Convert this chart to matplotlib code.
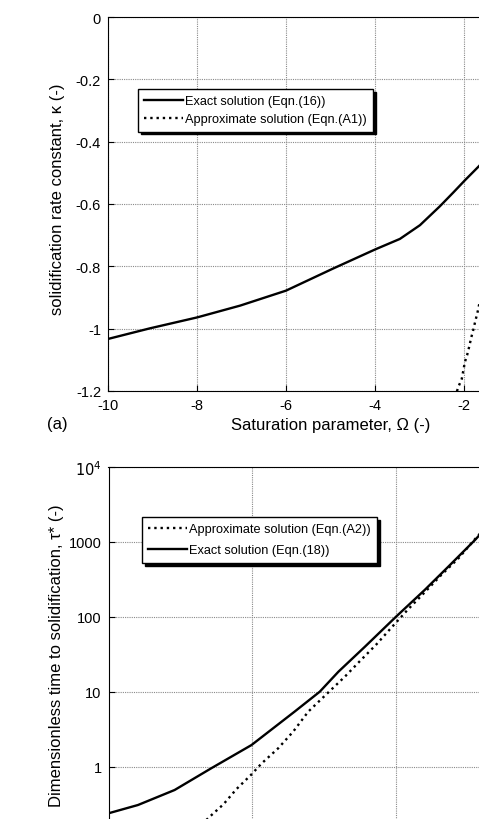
import matplotlib
matplotlib.use('Agg')
import matplotlib.pyplot as plt
from matplotlib.ticker import FuncFormatter

plt.rcParams['font.family'] = ['Liberation Sans', 'DejaVu Sans']
plt.rcParams['axes.unicode_minus'] = False

# (a) solidification rate constant vs saturation parameter
omega_exact = [-10, -9.06, -8, -7.03, -6, -4.94, -4, -3.44, -2.99, -2.54, -2.24, -1.98, -1.66, -1.3, -0.9]
kappa_exact = [-1.033, -0.999, -0.964, -0.926, -0.878, -0.807, -0.746, -0.712, -0.668, -0.607, -0.563,
               -0.524, -0.478, -0.42, -0.34]
omega_approx = [-2.2, -2.13, -2.05, -1.98, -1.93, -1.88, -1.84, -1.79, -1.75, -1.7, -1.66, -1.4, -1.0]
kappa_approx = [-1.22, -1.188, -1.161, -1.107, -1.085, -1.056, -1.03, -1.003, -0.978, -0.95, -0.923, -0.78, -0.56]

# (b) dimensionless time to solidification
omega_t_exact = [-10, -9.59, -9.08, -8.57, -8.01, -7.41, -7.06, -6.80, -6.43, -6.0, -5.6, -5.27, -4.90, -4.3]
tau_exact = [0.238, 0.307, 0.487, 0.95, 1.94, 5.42, 10, 18.5, 40, 100, 228, 468, 1060, 4500]
omega_t_approx = [-8.9, -8.59, -8.4, -8.22, -8.02, -7.87, -7.64, -7.43, -7.22, -6.94, -6.71, -6.50, -6.27,
                  -6.05, -5.83, -5.6, -5.37, -5.13, -4.87, -4.3]
tau_approx = [0.11, 0.215, 0.314, 0.5, 0.77, 1.1, 1.75, 2.93, 5.42, 9.8, 15.9, 25.7, 43, 74, 126, 212,
              361, 603, 1175, 4500]

W, H = 479, 820
fig = plt.figure(figsize=(W / 100, H / 100), dpi=100)

grid_kw = dict(color='#8a8a8a', linestyle=(0, (1, 1)), linewidth=0.8)
fmt = FuncFormatter(lambda v, p: '%g' % v)

# top panel (right part is cut off by the figure edge, like the scan)
ax1 = fig.add_axes([108 / W, 1 - 392 / H, 445 / W, 374 / H])
ax1.plot(omega_exact, kappa_exact, color='black', lw=1.7, label='Exact solution (Eqn.(16))')
ax1.plot(omega_approx, kappa_approx, color='black', lw=1.7, linestyle=':', label='Approximate solution (Eqn.(A1))')
ax1.set_xlim(-10, 0)
ax1.set_ylim(-1.2, 0)
ax1.set_xticks([-10, -8, -6, -4, -2])
ax1.set_yticks([0, -0.2, -0.4, -0.6, -0.8, -1, -1.2])
ax1.xaxis.set_major_formatter(fmt)
ax1.yaxis.set_major_formatter(fmt)
ax1.grid(True, **grid_kw)
ax1.tick_params(direction='in', labelsize=10.5, length=4, pad=5)
ax1.set_xlabel('Saturation parameter, \u03a9 (-)', fontsize=12)
ax1.set_ylabel('solidification rate constant, \u03ba (-)', fontsize=12)
ax1.xaxis.set_label_coords(0.5, -0.07)
ax1.yaxis.set_label_coords(-0.097, 0.515)
leg1 = ax1.legend(loc='upper left', bbox_to_anchor=(138 / W, 1 - 90 / H), bbox_transform=fig.transFigure,
                  fontsize=9.2, frameon=True, fancybox=False, edgecolor='black', framealpha=1,
                  shadow={'color': 'black', 'alpha': 1}, handlelength=3.0, handletextpad=0.2,
                  borderpad=0.5, labelspacing=0.45, borderaxespad=0)
leg1.get_frame().set_linewidth(1.0)
fig.text(57 / W, 1 - 425 / H, '(a)', ha='center', va='center', fontsize=12)

# bottom panel (lower part cut off)
ax2 = fig.add_axes([108.5 / W, 1 - 842.5 / H, 445.5 / W, 374.5 / H])
ax2.plot(omega_t_approx, tau_approx, color='black', lw=1.7, linestyle=':', label='Approximate solution (Eqn.(A2))')
ax2.plot(omega_t_exact, tau_exact, color='black', lw=1.7, label='Exact solution (Eqn.(18))')
ax2.set_yscale('log')
ax2.set_xlim(-10, -3.8)
ax2.set_ylim(0.1, 1e4)
ax2.set_xticks([-10, -8, -6, -4])
ax2.set_yticks([1, 10, 100, 1000, 1e4])
ax2.minorticks_off()
ax2.yaxis.set_major_formatter(FuncFormatter(lambda v, p: r'$10^4$' if v >= 1e4 else '%g' % v))
ax2.grid(True, **grid_kw)
ax2.tick_params(direction='in', labelsize=10.5, length=4, pad=5, labelbottom=False)
ax2.set_ylabel('Dimensionless time to solidification, \u03c4* (-)', fontsize=12)
ax2.yaxis.set_label_coords(-0.1, 0.5)
leg2 = ax2.legend(loc='upper left', bbox_to_anchor=(142 / W, 1 - 518 / H), bbox_transform=fig.transFigure,
                  fontsize=9.2, frameon=True, fancybox=False, edgecolor='black', framealpha=1,
                  shadow={'color': 'black', 'alpha': 1}, handlelength=3.0, handletextpad=0.2,
                  borderpad=0.5, labelspacing=0.7, borderaxespad=0)
leg2.get_frame().set_linewidth(1.0)

fig.savefig('out.png', dpi=100)
